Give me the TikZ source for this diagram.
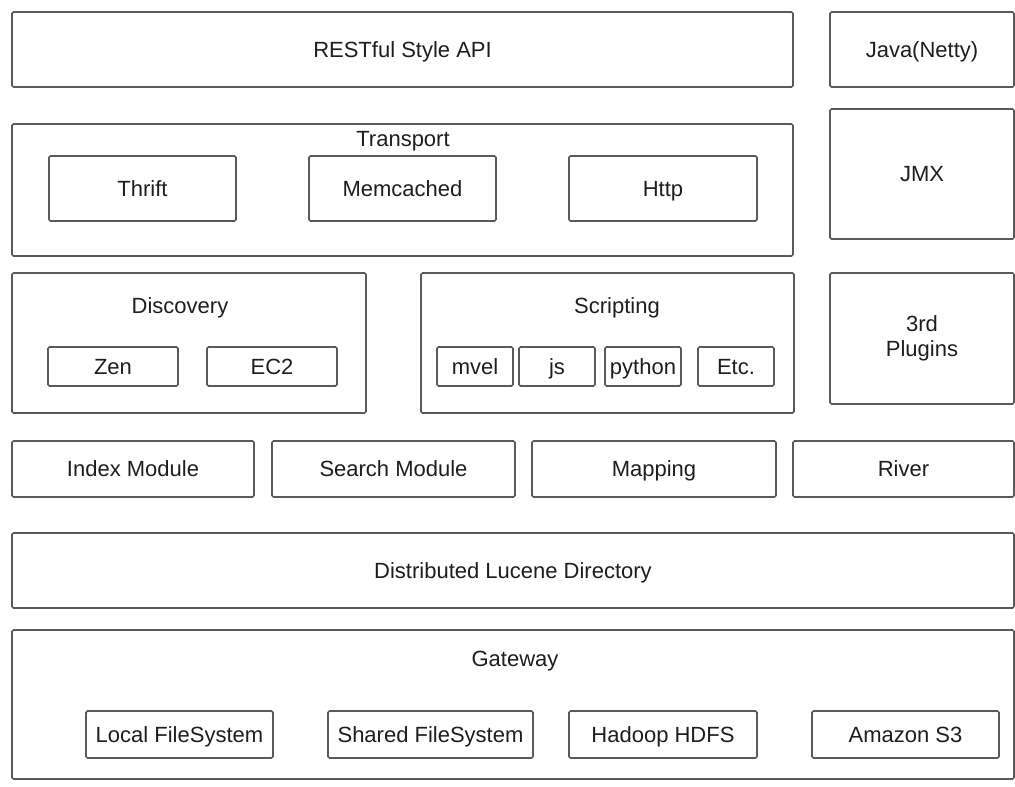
\documentclass[tikz,border=0pt]{standalone}
\usepackage{fontspec}
\setmainfont{Liberation Sans}
\definecolor{linec}{HTML}{5A5A5A}
\definecolor{textc}{HTML}{1E1E1E}
\begin{document}
\begin{tikzpicture}[x=1pt,y=-1pt,
  box/.style={draw=linec, line width=1.7pt, rounded corners=1.5pt, inner sep=0pt, outer sep=0pt,
    text=textc, font=\fontsize{22}{25}\selectfont, text height=15.8pt, text depth=0pt},
  twoline/.style={box, text height=, text depth=, align=center},
  ttl/.style={inner sep=0pt, text=textc, font=\fontsize{22}{25}\selectfont, text height=15.8pt, text depth=0pt}]
\useasboundingbox[fill=white] (0,0) rectangle (1015,787);
% row 1
\node[box, minimum width=781, minimum height=75] (rest) at (402.5,49.5) {RESTful Style API};
\node[box, minimum width=184, minimum height=75] (java) at (922,49.5) {Java(Netty)};
% transport
\node[box, minimum width=781, minimum height=132] (transport) at (402.5,190) {};
\node[ttl] (transportT) at (403,138.5) {Transport};
\node[box, minimum width=187, minimum height=65] (thrift) at (142.5,188.5) {Thrift};
\node[box, minimum width=187, minimum height=65] (memc) at (402.5,188.5) {Memcached};
\node[box, minimum width=188, minimum height=65] (http) at (663,188.5) {Http};
\node[box, minimum width=184, minimum height=130] (jmx) at (922,174) {JMX};
% discovery
\node[box, minimum width=354, minimum height=140] (disc) at (189,343) {};
\node[ttl] (discT) at (180,306) {Discovery};
\node[box, minimum width=130, minimum height=39] (zen) at (113,366.5) {Zen};
\node[box, minimum width=130, minimum height=39] (ec2) at (272,366.5) {EC2};
% scripting
\node[box, minimum width=373, minimum height=140] (script) at (607.5,343) {};
\node[ttl] (scriptT) at (617,306) {Scripting};
\node[box, minimum width=76, minimum height=39] (mvel) at (475,366.5) {mvel};
\node[box, minimum width=76, minimum height=39] (js) at (557,366.5) {js};
\node[box, minimum width=76, minimum height=39] (python) at (643,366.5) {python};
\node[box, minimum width=76, minimum height=39] (etc) at (736,366.5) {Etc.};
\node[twoline, minimum width=184, minimum height=131] (plugins) at (922,338.5) {3rd\\Plugins};
% modules
\node[box, minimum width=242, minimum height=56] (index) at (133,469) {Index Module};
\node[box, minimum width=243, minimum height=56] (search) at (393.5,469) {Search Module};
\node[box, minimum width=244, minimum height=56] (mapping) at (654,469) {Mapping};
\node[box, minimum width=221, minimum height=56] (river) at (903.5,469) {River};
% lucene
\node[box, minimum width=1002, minimum height=75] (lucene) at (513,570.5) {Distributed Lucene Directory};
% gateway
\node[box, minimum width=1002, minimum height=149] (gateway) at (513,704.5) {};
\node[ttl] (gatewayT) at (515,659) {Gateway};
\node[box, minimum width=187, minimum height=47] (local) at (179.5,734.5) {Local FileSystem};
\node[box, minimum width=205, minimum height=47] (shared) at (430.5,734.5) {Shared FileSystem};
\node[box, minimum width=188, minimum height=47] (hadoop) at (663,734.5) {Hadoop HDFS};
\node[box, minimum width=187, minimum height=47] (s3) at (905.5,734.5) {Amazon S3};
\end{tikzpicture}
\end{document}
